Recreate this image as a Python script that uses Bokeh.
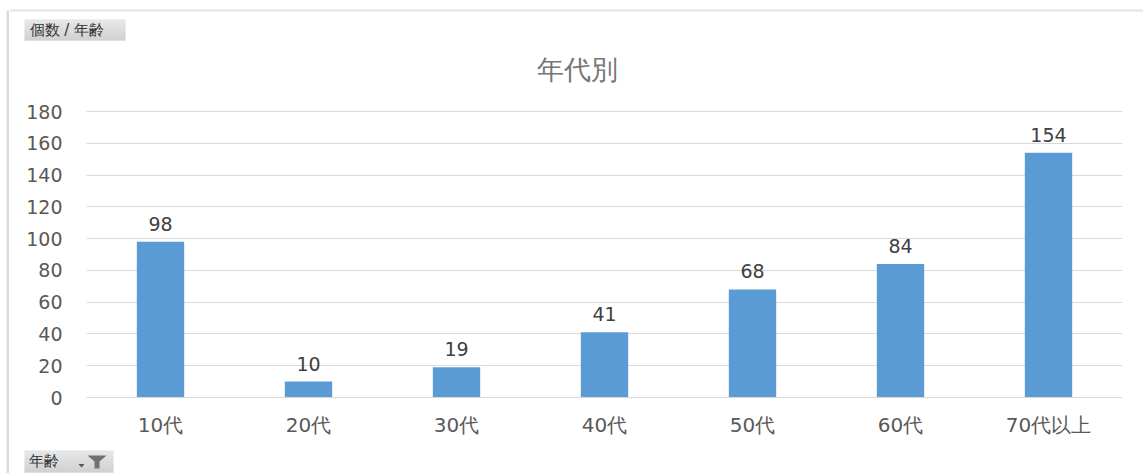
from bokeh.core.properties import value
from bokeh.embed import file_html
from bokeh.layouts import column, row
from bokeh.models import ColumnDataSource, FactorRange, Range1d
from bokeh.plotting import figure
from bokeh.resources import INLINE

categories = ["10代", "20代", "30代", "40代", "50代", "60代", "70代以上"]
counts = [98, 10, 19, 41, 68, 84, 154]
y_ticks = [0, 20, 40, 60, 80, 100, 120, 140, 160, 180]
chart_title = "年代別"
field_button = "個数 / 年齢"
filter_button = "年齢"

WIDTH, HEIGHT = 1143, 473
LEFT_STRIP = 9      # column holding the frame's left rule
TOP_STRIP = 90      # band with the title and the field button
BOTTOM_STRIP = 26   # band with the filter button
FONT = "DejaVu Sans"
TEXT = "#595959"
GRID = "#d9d9d9"


def strip(x0, x1, y0, y1):
    """Axis-free band whose data coordinates are page pixels, y growing downwards."""
    s = figure(
        width=x1 - x0, height=y1 - y0,
        x_range=Range1d(x0, x1), y_range=Range1d(y1, y0),
        x_axis_type=None, y_axis_type=None, output_backend="svg", toolbar_location=None,
        min_border=0, outline_line_color=None,
        background_fill_color="white", border_fill_color="white",
    )
    s.grid.visible = False
    return s


def button(s, left, right, top, bottom):
    """Pivot field button: grey box that darkens slightly downwards."""
    steps = bottom - top
    shades = [int(224 - 30 * i / (steps - 1)) for i in range(steps)]
    s.quad(left=left, right=right, top=[top + i for i in range(steps)],
           bottom=[top + i + 1 for i in range(steps)],
           color=[f"#{c:02x}{c:02x}{c:02x}" for c in shades], line_color=None)


def caption(s, x, y, text, size, color, align="left"):
    s.text(x=[x], y=[y], text=[text], text_font=value(FONT), text_font_size=size,
           text_color=color, text_align=align, text_baseline="middle")


# Frame rule along the left edge
left_band = strip(0, LEFT_STRIP, 0, HEIGHT)
left_band.quad(left=6, right=9, top=10, bottom=HEIGHT, color="#dcdcdc", line_color=None)

# Title band with the top rule and field button
top_band = strip(LEFT_STRIP, WIDTH, 0, TOP_STRIP)
top_band.quad(left=LEFT_STRIP, right=WIDTH, top=9, bottom=11, color="#e4e4e4", line_color=None)
button(top_band, 24, 125, 19, 40)
caption(top_band, 29, 29.5, field_button, "15px", "#333333")
caption(top_band, 577, 69, chart_title, "27px", "#767676", align="center")

# Bar chart
source = ColumnDataSource(dict(category=categories, count=counts, label=[str(c) for c in counts]))

p = figure(
    width=WIDTH - LEFT_STRIP, height=HEIGHT - TOP_STRIP - BOTTOM_STRIP,
    x_range=FactorRange(factors=categories, range_padding=0, factor_padding=0),
    y_range=Range1d(0, 180.63),
    output_backend="svg", toolbar_location=None,
    min_border_left=86 - LEFT_STRIP, min_border_right=21,
    min_border_top=110 - TOP_STRIP, min_border_bottom=50,
    outline_line_color=None, background_fill_color="white", border_fill_color="white",
)

p.vbar(x="category", top="count", width=0.32, source=source, color="#5b9bd5", line_color=None)
p.text(x="category", y="count", text="label", source=source, text_align="center",
       text_baseline="bottom", y_offset=-11, text_color="#404040", text_font_size="19px",
       text_font=value(FONT))

p.yaxis.ticker = y_ticks
p.yaxis.axis_line_color = None
p.yaxis.major_tick_line_color = None
p.yaxis.minor_tick_line_color = None
p.yaxis.major_label_standoff = 18
p.yaxis.major_label_text_font = FONT
p.yaxis.major_label_text_font_size = "19px"
p.yaxis.major_label_text_color = TEXT

p.xaxis.axis_line_color = GRID
p.xaxis.major_tick_line_color = None
p.xaxis.minor_tick_line_color = None
p.xaxis.major_label_standoff = 9
p.xaxis.major_label_text_font = FONT
p.xaxis.major_label_text_font_size = "20px"
p.xaxis.major_label_text_color = TEXT

p.xgrid.grid_line_color = None
p.ygrid.ticker = y_ticks
p.ygrid.grid_line_color = GRID
p.ygrid.grid_line_width = 1

# Filter button with its drop arrow and funnel
bottom_band = strip(LEFT_STRIP, WIDTH, HEIGHT - BOTTOM_STRIP, HEIGHT)
button(bottom_band, 24, 113, 450, 472)
caption(bottom_band, 28, 460.5, filter_button, "15px", "#333333")
bottom_band.patch(x=[78, 84, 81], y=[463.5, 463.5, 467], color="#555555", line_color=None)
bottom_band.patch(x=[87, 106, 99, 99, 94, 94], y=[455, 455, 461, 468, 468, 461],
                  color="#707070", line_color=None)

# The chart gets its own column so its axis margins stay out of the two bands
page = row(left_band, column(top_band, column(p, spacing=0), bottom_band, spacing=0), spacing=0)

open("out.html", "w").write(file_html(page, INLINE))
